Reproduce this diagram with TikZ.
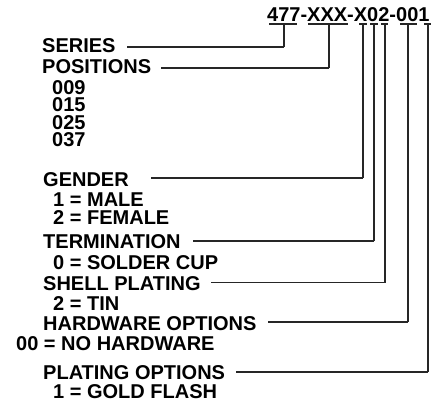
\documentclass[tikz,border=0pt]{standalone}
\usepackage{fontspec}
\setmainfont{Liberation Sans}
\newcommand\mystack[1]{\vtop{\baselineskip=17.6pt\lineskiplimit=-\maxdimen\lineskip=0pt\halign{##\hfil\cr#1\crcr}}}
\begin{document}
\begin{tikzpicture}[x=1pt,y=-1pt,
  lbl/.style={anchor=base west,inner sep=0pt,font=\fontsize{20}{20}\selectfont\bfseries},
  ln/.style={line width=1.3pt,draw=black!85}]
\useasboundingbox (0,0) rectangle (448,405);
% title
\node[lbl] (title) at (267,21.5) {477-XXX-X02-001};
% labels
\node[lbl] (series) at (42,52) {SERIES};
\node[lbl] (positions) at (42,73) {POSITIONS};
\node[lbl] (plist) at (52,94) {\mystack{009\cr 015\cr 025\cr 037}};
\node[lbl] (gender) at (43,186) {GENDER};
\node[lbl] (glist) at (53,206.5) {\mystack{1 = MALE\cr 2 = FEMALE}};
\node[lbl] (term) at (43,248) {TERMINATION};
\node[lbl] (solder) at (53,269) {0 = SOLDER CUP};
\node[lbl] (shell) at (43,290) {SHELL PLATING};
\node[lbl] (tin) at (53,310.5) {2 = TIN};
\node[lbl] (hw) at (43,330) {HARDWARE OPTIONS};
\node[lbl] (nohw) at (16,350) {00 = NO HARDWARE};
\node[lbl] (plating) at (43,379) {PLATING OPTIONS};
\node[lbl] (gold) at (53,398) {1 = GOLD FLASH};
% underline taps
\coordinate (u1l) at (269,24); \coordinate (u1r) at (297,24); \coordinate (t1) at (284,24); \coordinate (b1) at (284,47);
\coordinate (u2l) at (308,24); \coordinate (u2r) at (348,24); \coordinate (t2) at (329,24); \coordinate (b2) at (329,68);
\coordinate (u3l) at (359,24); \coordinate (u3r) at (367,24); \coordinate (t3) at (363,24); \coordinate (b3) at (363,178);
\coordinate (u4l) at (370,24); \coordinate (u4r) at (378,24); \coordinate (t4) at (374,24); \coordinate (b4) at (374,241);
\coordinate (u5l) at (381,24); \coordinate (u5r) at (388,24); \coordinate (t5) at (385,24); \coordinate (b5) at (385,282.5);
\coordinate (u6l) at (400,24); \coordinate (u6r) at (417,24); \coordinate (t6) at (408,24); \coordinate (b6) at (408,322);
\coordinate (u7l) at (424,24); \coordinate (u7r) at (431,24); \coordinate (t7) at (428,24); \coordinate (b7) at (428,372);
\foreach \i in {1,...,7} {\draw[ln] (u\i l) -- (u\i r); \draw[ln] (t\i) -- (b\i);}
% connectors
\draw[ln] (b1) -- ([xshift=11pt]series.east |- b1);
\draw[ln] (b2) -- ([xshift=10pt]positions.east |- b2);
\draw[ln] (b3) -- ([xshift=22pt]gender.east |- b3);
\draw[ln] (b4) -- ([xshift=12pt]term.east |- b4);
\draw[ln] (b5) -- ([xshift=10pt]shell.east |- b5);
\draw[ln] (b6) -- ([xshift=11pt]hw.east |- b6);
\draw[ln] (b7) -- ([xshift=11pt]plating.east |- b7);
\end{tikzpicture}
\end{document}
